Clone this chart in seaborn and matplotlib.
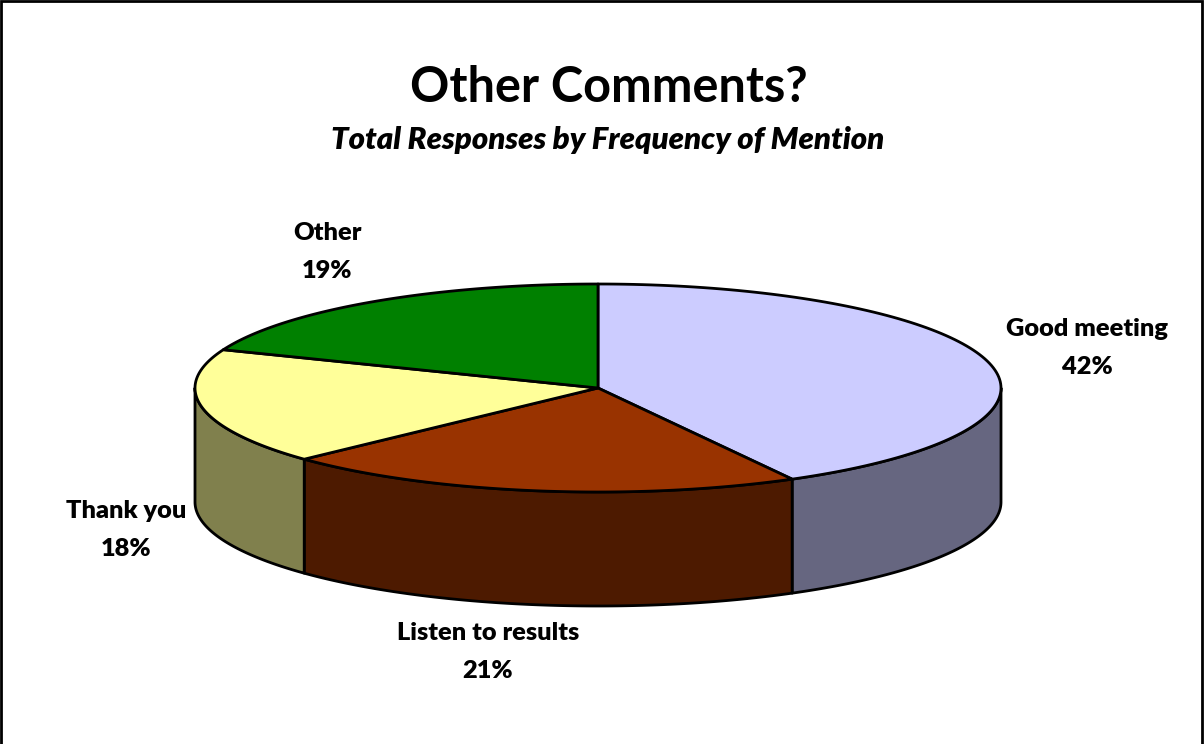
from matplotlib import pyplot as plt
from matplotlib.patches import Polygon, Rectangle
from matplotlib.colors import to_rgb
import seaborn as sns
import numpy as np

# Data
categories = ["Good meeting", "Listen to results", "Thank you", "Other"]
shares = [42, 21, 18, 19]
top_colors = ["#CCCCFF", "#993300", "#FFFF99", "#008000"]

sns.set_theme(style="white")
plt.rcParams["font.family"] = ["Lato", "DejaVu Sans"]

fig = plt.figure(figsize=(12.04, 7.44), dpi=100)
ax = fig.add_axes([0, 0, 1, 1])
ax.set_xlim(0, 1204)
ax.set_ylim(744, 0)
ax.axis("off")

# pie geometry (pixels)
cx, cy, rx, ry, depth = 598, 388, 403, 104, 114


def ellipse_pts(a0, a1, dy=0, n=120):
    # angles clockwise from 12 o'clock, in degrees
    t = np.radians(np.linspace(a0, a1, n))
    return np.column_stack([cx + rx * np.sin(t), cy - ry * np.cos(t) + dy])


def darker(c, f=0.5):
    r, g, b = to_rgb(c)
    return (r * f, g * f, b * f)


total = sum(shares)
bounds = np.concatenate([[0], np.cumsum(shares) / total * 360])

# side walls (front half only: 90..270 deg)
for i, c in enumerate(top_colors):
    a0, a1 = max(bounds[i], 90), min(bounds[i + 1], 270)
    if a1 <= a0:
        continue
    top = ellipse_pts(a0, a1)
    bot = ellipse_pts(a0, a1, dy=depth)[::-1]
    ax.add_patch(Polygon(np.vstack([top, bot]), closed=True,
                         facecolor=darker(c), edgecolor="black", lw=2, joinstyle="round"))

# top faces
for i, c in enumerate(top_colors):
    arc = ellipse_pts(bounds[i], bounds[i + 1])
    pts = np.vstack([[cx, cy], arc])
    ax.add_patch(Polygon(pts, closed=True, facecolor=c, edgecolor="black",
                         lw=2, joinstyle="round"))

# labels
label_pos = [(1087, 348), (488, 652), (126, 530), (327, 252)]
for name, val, (lx, ly) in zip(categories, shares, label_pos):
    ax.text(lx, ly, f"{name}\n{val}%", ha="center", va="center",
            fontsize=18.3, fontweight="heavy", linespacing=1.85, color="black")

ax.text(609, 87, "Other Comments?", ha="center", va="center",
        fontsize=35, fontweight="bold", color="black")
ax.text(608, 140, "Total Responses by Frequency of Mention", ha="center",
        va="center", fontsize=22.4, fontweight="heavy", style="italic", color="black")

fig.patches.append(Rectangle((0.001, -0.01), 0.997, 1.008, transform=fig.transFigure,
                             fill=False, edgecolor="black", lw=2))

plt.savefig("out.png", dpi=100)
